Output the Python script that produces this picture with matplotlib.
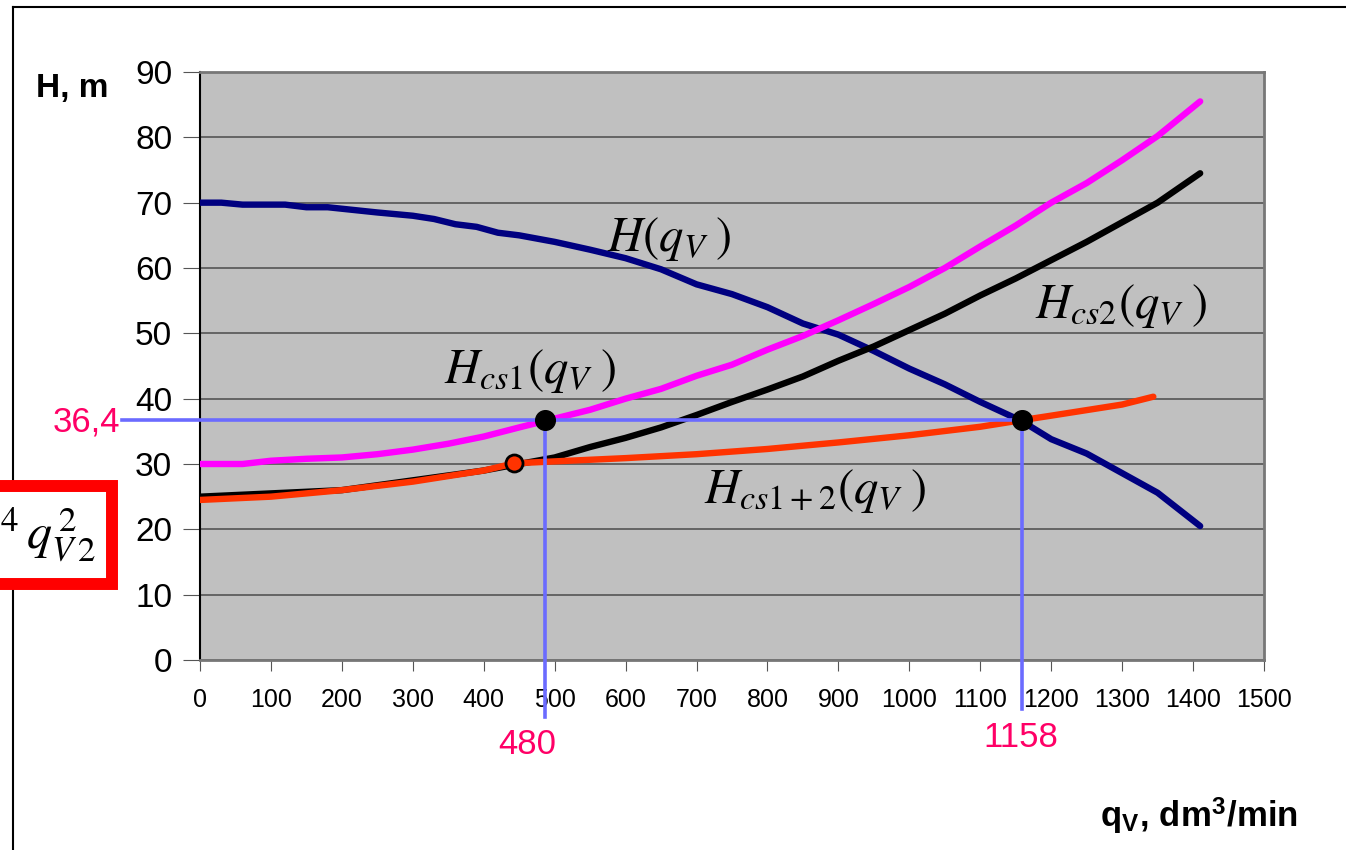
import matplotlib
matplotlib.use('Agg')
import matplotlib.pyplot as plt
from matplotlib.lines import Line2D
from matplotlib.patches import Rectangle

plt.rcParams['font.family'] = ['Liberation Sans', 'DejaVu Sans']
plt.rcParams['mathtext.fontset'] = 'stix'

# pump curve H(qV)
q_pump = [0, 30, 60, 120, 150, 180, 250, 300, 330, 360, 390, 420, 450, 500, 550, 600, 650,
          700, 750, 800, 850, 900, 950, 1000, 1050, 1100, 1158, 1200, 1250, 1300, 1350, 1410]
h_pump = [70, 70, 69.7, 69.7, 69.3, 69.3, 68.5, 68, 67.5, 66.7, 66.3, 65.4, 65, 64, 62.8, 61.5, 59.8,
          57.5, 56, 54, 51.5, 49.8, 47.3, 44.6, 42.2, 39.5, 36.6, 33.8, 31.6, 28.6, 25.6, 20.5]

# system curve 1
q_cs1 = [0, 60, 100, 150, 200, 250, 300, 350, 400, 450, 487, 550, 600, 650, 700, 750, 800,
         850, 900, 950, 1000, 1050, 1100, 1150, 1200, 1250, 1300, 1350, 1410]
h_cs1 = [30, 30, 30.5, 30.8, 31, 31.5, 32.2, 33.1, 34.2, 35.6, 36.6, 38.3, 40, 41.5, 43.5, 45.2, 47.5,
         49.6, 52, 54.5, 57.1, 60, 63.3, 66.5, 70, 73, 76.5, 80.2, 85.5]

# system curve 2
q_cs2 = [0, 100, 200, 300, 400, 450, 500, 550, 600, 650, 700, 750, 800, 850, 900, 950, 1000,
         1050, 1100, 1150, 1200, 1250, 1300, 1350, 1410]
h_cs2 = [25, 25.5, 26, 27.5, 29, 30, 31, 32.6, 34, 35.6, 37.5, 39.5, 41.4, 43.4, 45.8, 48, 50.5,
         53, 55.8, 58.4, 61.2, 64, 67, 70, 74.5]

# combined system curve 1+2
q_cs12 = [0, 100, 200, 300, 400, 443, 500, 600, 700, 800, 900, 1000, 1100, 1158, 1200, 1300, 1344]
h_cs12 = [24.5, 25, 26, 27.3, 29, 30.1, 30.4, 30.9, 31.5, 32.3, 33.3, 34.4, 35.7, 36.7, 37.4, 39.1, 40.3]

# operating points
op_q = [487, 1159]
op_h = [36.7, 36.7]
op_labels = ['480', '1158']
op_h_label = '36,4'
mix_q = [443]
mix_h = [30.1]

W, H = 1346, 850
fig = plt.figure(figsize=(W / 100, H / 100), dpi=100)
ax = fig.add_axes([200 / W, 1 - 660 / H, 1064 / W, 588 / H])
ax.set_facecolor('#c0c0c0')

ax.set_xlim(0, 1500)
ax.set_ylim(0, 90)
ax.set_xticks(range(0, 1501, 100))
ax.set_yticks(range(0, 91, 10))
ax.yaxis.grid(True, color='#555555', linewidth=1.2)
ax.set_axisbelow(True)
ax.tick_params(axis='y', labelsize=24, length=12, color='#555555', pad=8)
ax.tick_params(axis='x', labelsize=18, length=8, color='#555555', pad=12)
for s in ['top', 'right', 'bottom']:
    ax.spines[s].set_color('#777777')
    ax.spines[s].set_linewidth(2)
ax.spines['left'].set_color('black')
ax.spines['left'].set_linewidth(1.5)

lw = 4.6
ax.plot(q_pump, h_pump, color='#000080', lw=lw, solid_capstyle='round', zorder=3)
ax.plot(q_cs2, h_cs2, color='black', lw=lw, solid_capstyle='round', zorder=3)
ax.plot(q_cs1, h_cs1, color='#ff00ff', lw=lw, solid_capstyle='round', zorder=3)
ax.plot(q_cs12, h_cs12, color='#ff3300', lw=lw, solid_capstyle='round', zorder=4)

# guide lines to the operating points
guide = '#6b6bff'
ax.plot([-110, op_q[1]], [op_h[0], op_h[1]], color=guide, lw=2.6, clip_on=False, zorder=5)
ax.plot([op_q[0], op_q[0]], [op_h[0], -8.7], color=guide, lw=2.6, clip_on=False, zorder=5)
ax.plot([op_q[1], op_q[1]], [op_h[1], -7.5], color=guide, lw=2.6, clip_on=False, zorder=5)

ax.scatter(op_q, op_h, s=200, color='black', zorder=6)
ax.scatter(mix_q, mix_h, s=150, color='#ff3300', edgecolor='black', linewidth=2, zorder=6)

pink = '#ff0066'
ax.text(-113, op_h[0] - 0.3, op_h_label, color=pink, fontsize=25, ha='right', va='center',
        clip_on=False)
ax.text(461, -13, op_labels[0], color=pink, fontsize=25, ha='center', va='center', clip_on=False)
ax.text(1157, -11.8, op_labels[1], color=pink, fontsize=25, ha='center', va='center', clip_on=False)

# curve names
tsize = 35
ax.text(662, 64.5, r'$H\left(q_{V}\;\right)$', fontsize=tsize, ha='center', va='center')
ax.text(465, 44.2, r'$H_{cs1}\left(q_{V}\;\right)$', fontsize=tsize, ha='center', va='center')
ax.text(1298, 54.2, r'$H_{cs2}\left(q_{V}\;\right)$', fontsize=tsize, ha='center', va='center')
ax.text(867, 25.9, r'$H_{cs1+2}\left(q_{V}\;\right)$', fontsize=tsize, ha='center', va='center')

# axis titles
fig.text(36 / W, 1 - 88 / H, 'H, m', fontsize=24, fontweight='bold', ha='left', va='center')
fig.text(1100 / W, 1 - 815 / H, r'q$_\mathregular{V}$, dm$^\mathregular{3}$/min', fontsize=25,
         fontweight='bold', ha='left', va='center')

# outer frame
fig.add_artist(Line2D([13 / W, 1], [1 - 7 / H, 1 - 7 / H], color='black', lw=1.5))
fig.add_artist(Line2D([13 / W, 13 / W], [0, 1 - 7 / H], color='black', lw=1.5))

# clipped red formula box
fig.add_artist(Rectangle((-20 / W, 1 - 584 / H), 132 / W, 98.5 / H, transform=fig.transFigure,
                         facecolor='white', edgecolor='#ff0000', lw=8.6, zorder=10))
fig.text(0 / W, 1 - 535 / H, r'$^4\,q_{V\,2}^{\,2}$', fontsize=36, ha='left', va='center',
         zorder=11)

fig.savefig('out.png', dpi=100)
